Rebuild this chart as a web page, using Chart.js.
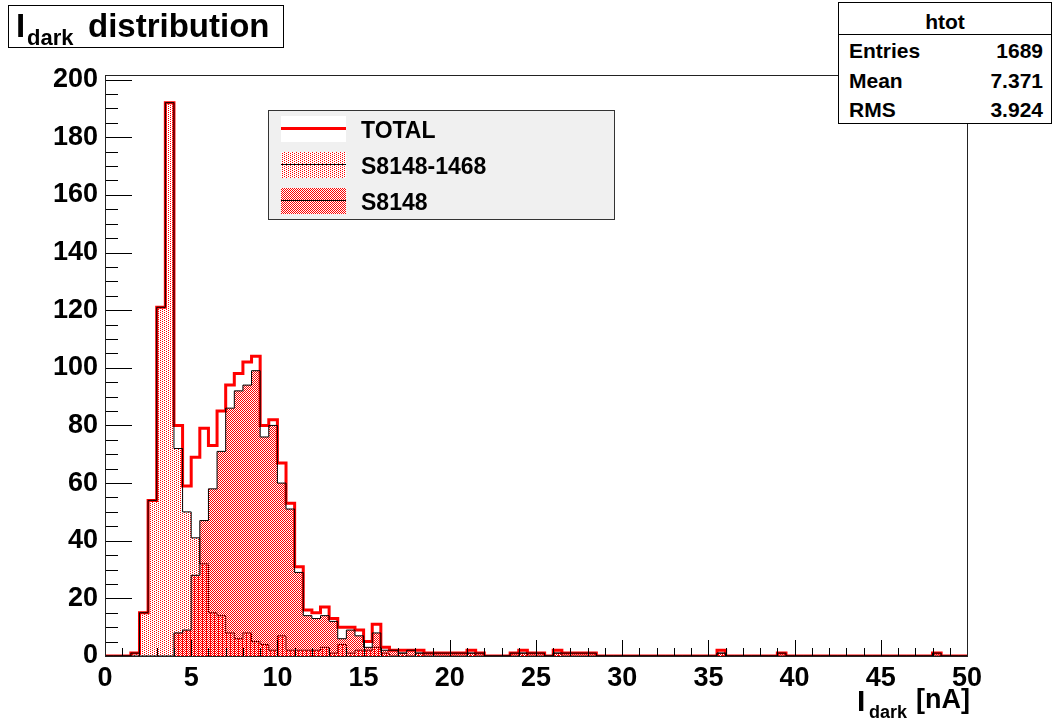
<!DOCTYPE html>
<html>
<head>
<meta charset="utf-8">
<script src="https://cdn.jsdelivr.net/npm/chart.js@4.4.0/dist/chart.umd.min.js"></script>
<style>
  body { margin: 0; background: #fff; font-family: 'Liberation Sans', Arial, sans-serif; font-weight: bold; color: #000; }
  #wrap { position: relative; width: 1053px; height: 721px; }
  #histCanvas { position: absolute; left: 0; top: 0; }
  .abs { position: absolute; line-height: 1; white-space: nowrap; }
  #titleBox { position: absolute; left: 8px; top: 5px; width: 274px; height: 41px; border: 1.5px solid #000; background: #fff; }
  #statsBox { position: absolute; left: 838px; top: 2px; width: 212px; height: 120px; border: 1px solid #000; background: #fff; }
  #statsBox .sep { position: absolute; left: 0; top: 31px; width: 212px; height: 1px; background: #000; }
</style>
</head>
<body>
<div id="wrap">
  <canvas id="histCanvas" width="1053" height="721"></canvas>

  <div id="titleBox">
    <span class="abs" style="left:7px; top:3px; font-size:33px;">I</span>
    <span class="abs" style="left:18px; top:21px; font-size:22px;">dark</span>
    <span class="abs" style="left:79px; top:3px; font-size:33px;">distribution</span>
  </div>

  <div id="statsBox">
    <span class="abs" id="statsName" style="left:0; width:212px; text-align:center; top:8px; font-size:21px;"></span>
    <div class="sep"></div>
    <div id="statsRows"></div>
  </div>

  <div id="legendLabels"></div>

  <div class="abs" style="left:857px; top:686px; font-size:30px;">I</div>
  <div class="abs" style="left:869px; top:703px; font-size:18px;">dark</div>
  <div class="abs" style="left:916px; top:686px; font-size:27px;">[nA]</div>
</div>

<script>
// Histogram binning (ROOT style, 100 bins from 0 to 50)
const binWidth = 0.5;
const xMin = 0;
const xMax = 50;

// Bin contents, bin i covers [i*0.5, i*0.5+0.5)
const totalCounts = [
  0, 0, 0, 1, 15, 54, 121, 192, 80, 59,
  69, 79, 73, 85, 94, 98, 102, 104, 80, 82,
  67, 53, 31, 16, 15, 17, 13, 10, 10, 9,
  5, 11, 3, 2, 2, 2, 2, 1, 1, 1,
  1, 1, 2, 1, 0, 0, 0, 1, 2, 1,
  1, 0, 2, 1, 1, 1, 1, 0, 0, 0,
  0, 0, 0, 0, 0, 0, 0, 0, 0, 0,
  0, 2, 0, 0, 0, 0, 0, 0, 1, 0,
  0, 0, 0, 0, 0, 0, 0, 0, 0, 0,
  0, 0, 0, 0, 0, 0, 1, 0, 0, 0
];

const s81481468Counts = [
  0, 0, 0, 1, 15, 54, 121, 192, 72, 50,
  41, 32, 15, 14, 8, 6, 8, 5, 4, 2,
  7, 2, 2, 2, 2, 3, 1, 4, 1, 2,
  2, 3, 1, 0, 1, 0, 1, 0, 0, 0,
  0, 0, 1, 0, 0, 0, 0, 0, 1, 0,
  0, 0, 1, 0, 0, 0, 0, 0, 0, 0,
  0, 0, 0, 0, 0, 0, 0, 0, 0, 0,
  0, 1, 0, 0, 0, 0, 0, 0, 0, 0,
  0, 0, 0, 0, 0, 0, 0, 0, 0, 0,
  0, 0, 0, 0, 0, 0, 0, 0, 0, 0
];

const s8148Counts = [
  0, 0, 0, 0, 0, 0, 0, 0, 8, 9,
  28, 47, 58, 71, 86, 92, 94, 99, 76, 80,
  60, 51, 29, 14, 13, 14, 12, 6, 9, 7,
  3, 8, 2, 2, 1, 2, 1, 1, 1, 1,
  1, 1, 1, 1, 0, 0, 0, 1, 1, 1,
  1, 0, 1, 1, 1, 1, 1, 0, 0, 0,
  0, 0, 0, 0, 0, 0, 0, 0, 0, 0,
  0, 1, 0, 0, 0, 0, 0, 0, 1, 0,
  0, 0, 0, 0, 0, 0, 0, 0, 0, 0,
  0, 0, 0, 0, 0, 0, 1, 0, 0, 0
];

// Stats box (as printed by ROOT)
const statsName = 'htot';
const statsLabels = ['Entries', 'Mean', 'RMS'];
const statsValues = ['1689', '7.371', '3.924'];

const legendLabels = ['TOTAL', 'S8148-1468', 'S8148'];

// Axis ticks
const yMax = 201.6;
const xTickStep = 5;
const xMinorStep = 1;
const yTickStep = 20;
const yMinorStep = 5;

// Fill patterns like ROOT's 3001 / 3002 styles
function makeTile(dense) {
  const c = document.createElement('canvas');
  c.width = 4;
  c.height = 4;
  const g = c.getContext('2d');
  g.fillStyle = '#ff0000';
  for (let y = 0; y < 4; y++) {
    for (let x = 0; x < 4; x++) {
      const on = dense ? (x + y) % 2 === 0 : (x === 0 && y % 2 === 0) || (x === 2 && y % 2 === 1);
      if (on) g.fillRect(x, y, 1, 1);
    }
  }
  return c;
}

function toSteps(counts) {
  const pts = counts.map((v, i) => ({ x: xMin + i * binWidth, y: v }));
  pts.push({ x: xMax, y: 0 });
  return pts;
}

const ctx = document.getElementById('histCanvas').getContext('2d');
const lightPattern = ctx.createPattern(makeTile(false), 'repeat');
const densePattern = ctx.createPattern(makeTile(true), 'repeat');

// Legend box geometry (drawn on the chart canvas so the fills match)
const legendBox = { left: 268, top: 110, width: 347, height: 110 };
const swatchLeft = 281;
const swatchWidth = 65;
const swatchHeight = 26;
const rowTops = [116, 152, 188];

// Frame, inward ticks and the legend, drawn on top of the histograms
const frameTicks = {
  id: 'frameTicks',
  afterDatasetsDraw(chart) {
    const { ctx, chartArea: a, scales: { x, y } } = chart;
    ctx.save();
    ctx.strokeStyle = '#000';
    ctx.lineWidth = 1;
    ctx.beginPath();
    for (let v = xMin; v <= xMax + 1e-9; v += xMinorStep) {
      const px = Math.round(x.getPixelForValue(v)) + 0.5;
      const len = v % xTickStep === 0 ? 16 : 8;
      ctx.moveTo(px, a.bottom);
      ctx.lineTo(px, a.bottom - len);
    }
    for (let v = 0; v <= 200; v += yMinorStep) {
      const py = Math.round(y.getPixelForValue(v)) + 0.5;
      const len = v % yTickStep === 0 ? 27 : 13;
      ctx.moveTo(a.left, py);
      ctx.lineTo(a.left + len, py);
    }
    ctx.stroke();
    ctx.strokeStyle = '#222';
    ctx.strokeRect(Math.round(a.left) + 0.5, Math.round(a.top) + 0.5, Math.round(a.right - a.left), Math.round(a.bottom - a.top));

    // legend
    const b = legendBox;
    ctx.fillStyle = '#f0f0f0';
    ctx.fillRect(b.left, b.top, b.width, b.height);
    ctx.strokeStyle = '#333';
    ctx.strokeRect(b.left + 0.5, b.top + 0.5, b.width - 1, b.height - 1);
    chart.data.datasets.slice().reverse().forEach((ds, i) => {
      const top = rowTops[i];
      ctx.fillStyle = '#fff';
      ctx.fillRect(swatchLeft, top, swatchWidth, swatchHeight);
      if (ds.fill) {
        ctx.fillStyle = ds.backgroundColor;
        ctx.fillRect(swatchLeft, top, swatchWidth, swatchHeight);
      }
      ctx.fillStyle = ds.borderColor;
      const lw = ds.borderWidth;
      ctx.fillRect(swatchLeft, top + 13 - Math.ceil(lw / 2), swatchWidth, lw);
    });
    ctx.restore();
  }
};

new Chart(ctx, {
  type: 'line',
  data: {
    datasets: [
      {
        label: legendLabels[2],
        data: toSteps(s8148Counts),
        stepped: true,
        borderColor: '#000',
        borderWidth: 1,
        backgroundColor: densePattern,
        fill: 'origin',
        pointRadius: 0,
        order: 1
      },
      {
        label: legendLabels[1],
        data: toSteps(s81481468Counts),
        stepped: true,
        borderColor: '#000',
        borderWidth: 1,
        backgroundColor: lightPattern,
        fill: 'origin',
        pointRadius: 0,
        order: 2
      },
      {
        label: legendLabels[0],
        data: toSteps(totalCounts),
        stepped: true,
        borderColor: '#ff0000',
        borderWidth: 3,
        fill: false,
        pointRadius: 0,
        order: 3
      }
    ]
  },
  options: {
    responsive: false,
    devicePixelRatio: 1,
    animation: false,
    layout: { padding: { top: 75, right: 86, bottom: 0, left: 0 } },
    plugins: { legend: { display: false }, tooltip: { enabled: false } },
    scales: {
      x: {
        type: 'linear',
        min: xMin,
        max: xMax,
        grid: { display: false, drawTicks: false },
        border: { display: false },
        ticks: {
          stepSize: xTickStep,
          color: '#000',
          padding: 6,
          maxRotation: 0,
          font: { family: "'Liberation Sans', Arial, sans-serif", weight: 'bold', size: 27 }
        },
        afterFit(scale) { scale.height = 65; }
      },
      y: {
        min: 0,
        max: yMax,
        grid: { display: false, drawTicks: false },
        border: { display: false },
        ticks: {
          stepSize: yTickStep,
          includeBounds: false,
          color: '#000',
          padding: 7,
          font: { family: "'Liberation Sans', Arial, sans-serif", weight: 'bold', size: 27 }
        },
        afterFit(scale) { scale.width = 105; }
      }
    }
  },
  plugins: [frameTicks]
});

// Stats box
document.getElementById('statsName').textContent = statsName;
const rowsEl = document.getElementById('statsRows');
statsLabels.forEach((lab, i) => {
  const top = 37 + i * 29.5;
  rowsEl.insertAdjacentHTML('beforeend',
    `<span class="abs" style="left:10px; top:${top}px; font-size:21px;">${lab}</span>` +
    `<span class="abs" style="right:8px; top:${top}px; font-size:21px; text-align:right;">${statsValues[i]}</span>`);
});

// Legend labels as text over the canvas
const labelsEl = document.getElementById('legendLabels');
legendLabels.forEach((lab, i) => {
  const span = document.createElement('span');
  span.className = 'abs';
  span.style.left = '361px';
  span.style.top = (rowTops[i] + 3) + 'px';
  span.style.fontSize = '23px';
  span.textContent = lab;
  labelsEl.appendChild(span);
});
</script>
</body>
</html>
